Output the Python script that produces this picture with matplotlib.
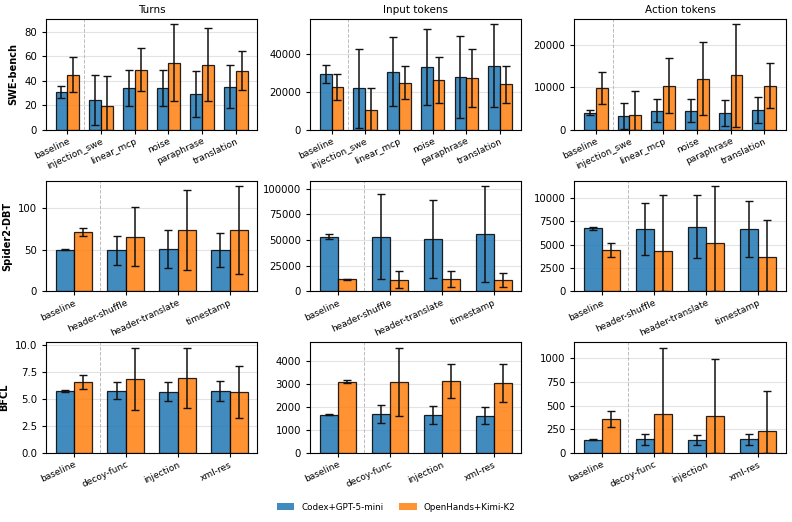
import numpy as np
import matplotlib
matplotlib.use("Agg")
from matplotlib import pyplot as plt
from matplotlib.patches import Patch

metrics = ["Turns", "Input tokens", "Action tokens"]
benchmarks = ["SWE-bench", "Spider2-DBT", "BFCL"]
series = ["Codex+GPT-5-mini", "OpenHands+Kimi-K2"]

swe_cats = ["baseline", "injection_swe", "linear_mcp", "noise", "paraphrase", "translation"]
spider_cats = ["baseline", "header-shuffle", "header-translate", "timestamp"]
bfcl_cats = ["baseline", "decoy-func", "injection", "xml-res"]

# SWE-bench: mean, std per series
swe_turns_codex = [31, 24, 34, 34, 29, 35]
swe_turns_codex_sd = [5, 20.5, 15, 15, 19, 17.5]
swe_turns_oh = [45, 19.5, 49, 54.6, 53, 48]
swe_turns_oh_sd = [14.5, 24, 17.5, 31.6, 30, 16]

swe_in_codex = [29500, 22000, 30800, 33200, 28000, 34000]
swe_in_codex_sd = [5000, 21000, 18300, 20400, 21900, 22000]
swe_in_oh = [22600, 10200, 24800, 26400, 27400, 24000]
swe_in_oh_sd = [7000, 11800, 8800, 12200, 15200, 9800]

swe_act_codex = [4000, 3200, 4500, 4500, 3850, 4650]
swe_act_codex_sd = [600, 3000, 2600, 2700, 3100, 3050]
swe_act_oh = [9850, 3500, 10400, 12000, 12800, 10400]
swe_act_oh_sd = [3750, 5700, 6400, 8600, 12100, 5200]

# Spider2-DBT
sp_turns_codex = [50, 49.4, 51, 49.6]
sp_turns_codex_sd = [0.6, 17.5, 23, 20.6]
sp_turns_oh = [71.4, 66, 74, 74.2]
sp_turns_oh_sd = [4.8, 36, 48, 53]

sp_in_codex = [53400, 53400, 51200, 55800]
sp_in_codex_sd = [2100, 41100, 38100, 47000]
sp_in_oh = [11700, 11200, 11900, 11200]
sp_in_oh_sd = [300, 8300, 7900, 7000]

sp_act_codex = [6760, 6640, 6900, 6710]
sp_act_codex_sd = [170, 2780, 3370, 3000]
sp_act_oh = [4390, 4360, 5200, 3710]
sp_act_oh_sd = [750, 5960, 6100, 3970]

# BFCL
bf_turns_codex = [5.77, 5.8, 5.69, 5.78]
bf_turns_codex_sd = [0.05, 0.77, 0.88, 0.9]
bf_turns_oh = [6.62, 6.9, 7.0, 5.7]
bf_turns_oh_sd = [0.63, 2.9, 2.8, 2.4]

bf_in_codex = [1660, 1690, 1670, 1620]
bf_in_codex_sd = [20, 380, 390, 370]
bf_in_oh = [3100, 3100, 3120, 3050]
bf_in_oh_sd = [60, 1480, 750, 830]

bf_act_codex = [143, 145, 140, 145]
bf_act_codex_sd = [3, 58, 56, 61]
bf_act_oh = [360, 412, 388, 231]
bf_act_oh_sd = [88, 703, 609, 430]

panels = [
    [(swe_turns_codex, swe_turns_codex_sd, swe_turns_oh, swe_turns_oh_sd),
     (swe_in_codex, swe_in_codex_sd, swe_in_oh, swe_in_oh_sd),
     (swe_act_codex, swe_act_codex_sd, swe_act_oh, swe_act_oh_sd)],
    [(sp_turns_codex, sp_turns_codex_sd, sp_turns_oh, sp_turns_oh_sd),
     (sp_in_codex, sp_in_codex_sd, sp_in_oh, sp_in_oh_sd),
     (sp_act_codex, sp_act_codex_sd, sp_act_oh, sp_act_oh_sd)],
    [(bf_turns_codex, bf_turns_codex_sd, bf_turns_oh, bf_turns_oh_sd),
     (bf_in_codex, bf_in_codex_sd, bf_in_oh, bf_in_oh_sd),
     (bf_act_codex, bf_act_codex_sd, bf_act_oh, bf_act_oh_sd)],
]
row_cats = [swe_cats, spider_cats, bfcl_cats]
colors = ["#1f77b4", "#ff7f0e"]


def clipped_err(mean, sd):
    # error bars don't go below zero
    mean = np.asarray(mean, float)
    sd = np.asarray(sd, float)
    return np.vstack([np.minimum(sd, mean), sd])


fig, axes = plt.subplots(3, 3, figsize=(7.92, 5.22), dpi=100)
fig.subplots_adjust(left=0.058, right=0.992, top=0.964, bottom=0.132,
                    wspace=0.25, hspace=0.46)

width = 0.35
for r in range(3):
    cats = row_cats[r]
    x = np.arange(len(cats))
    for c in range(3):
        ax = axes[r, c]
        m1, s1, m2, s2 = panels[r][c]
        for k, (m, s) in enumerate([(m1, s1), (m2, s2)]):
            off = (k - 0.5) * width
            ax.bar(x + off, m, width, color=colors[k], alpha=0.85,
                   edgecolor="black", linewidth=0.9, zorder=2)
            ax.errorbar(x + off, m, yerr=clipped_err(m, s), fmt="none",
                        ecolor="#111111", elinewidth=1.1, capsize=3,
                        capthick=1.0, zorder=3)
        ax.axvline(0.5, color="#bbbbbb", linestyle="--", linewidth=0.7, zorder=1)
        ax.set_axisbelow(True)
        ax.grid(axis="y", color="#e3e3e3", linewidth=0.8)
        ax.set_xticks(x)
        ax.set_xticklabels(cats, rotation=25, ha="right", fontsize=6.5,
                           rotation_mode="anchor")
        ax.tick_params(axis="y", labelsize=7.3, length=3)
        ax.tick_params(axis="x", length=3, pad=2)
        ax.set_ylim(bottom=0)
        if r == 0:
            ax.set_title(metrics[c], fontsize=7.5, pad=4)
        if c == 0:
            ax.set_ylabel(benchmarks[r], fontsize=7, fontweight="bold")

handles = [Patch(facecolor=colors[k], alpha=0.85, label=series[k]) for k in range(2)]
fig.legend(handles=handles, loc="lower center", ncol=2, frameon=False,
           fontsize=6.3, bbox_to_anchor=(0.5, 0.005), columnspacing=1.8)

fig.savefig("out.png", dpi=100)
